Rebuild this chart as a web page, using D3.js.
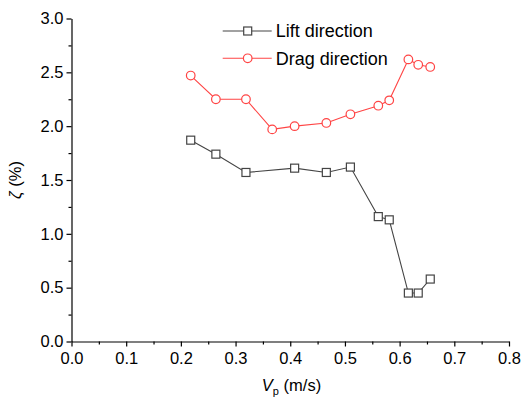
<!DOCTYPE html>
<html>
<head>
<meta charset="utf-8">
<script src="https://cdn.jsdelivr.net/npm/d3@7"></script>
<style>
  body { margin: 0; background: #fff; }
  text { font-family: Arial, "Liberation Sans", sans-serif; fill: #000; }
</style>
</head>
<body>
<div id="chart"></div>
<script>
// data
const liftVp = [0.218, 0.264, 0.319, 0.408, 0.466, 0.510, 0.561, 0.581, 0.616, 0.634, 0.656];
const liftZeta = [1.87, 1.74, 1.57, 1.61, 1.57, 1.62, 1.16, 1.13, 0.45, 0.45, 0.58];
const dragVp = [0.218, 0.264, 0.319, 0.367, 0.408, 0.466, 0.510, 0.561, 0.581, 0.616, 0.634, 0.656];
const dragZeta = [2.47, 2.25, 2.25, 1.97, 2.00, 2.03, 2.11, 2.19, 2.24, 2.62, 2.57, 2.55];
const xTicks = [0, 0.1, 0.2, 0.3, 0.4, 0.5, 0.6, 0.7, 0.8];
const yTicks = [0, 0.5, 1.0, 1.5, 2.0, 2.5, 3.0];

const W = 524, H = 399;
const margin = { top: 18.5, right: 15, bottom: 57.5, left: 71.5 };
const width = W - margin.left - margin.right,
  height = H - margin.top - margin.bottom;
const liftColor = "#444444", dragColor = "#ff4444";

const svg = d3.select("#chart").append("svg")
  .attr("width", W).attr("height", H)
  .append("g")
  .attr("transform", "translate(" + margin.left + "," + margin.top + ")");

const x = d3.scaleLinear().domain([0, 0.8]).range([0, 437.5]);
const y = d3.scaleLinear().domain([0, 3]).range([height, 0]);

// minor ticks
svg.append("g")
  .attr("transform", "translate(0," + height + ")")
  .call(d3.axisBottom(x).tickValues(d3.range(0.05, 0.8, 0.1)).tickSize(3).tickFormat(""))
  .call(g => g.select(".domain").remove());
svg.append("g")
  .call(d3.axisLeft(y).tickValues(d3.range(0.25, 3, 0.5)).tickSize(3).tickFormat(""))
  .call(g => g.select(".domain").remove());

// X axis
const xAxis = svg.append("g")
  .attr("transform", "translate(0," + height + ")")
  .call(d3.axisBottom(x).tickValues(xTicks).tickSize(5).tickSizeOuter(0).tickPadding(6).tickFormat(d3.format(".1f")));
xAxis.selectAll("text").style("font-size", "16.5px");

// Y axis
const yAxis = svg.append("g")
  .call(d3.axisLeft(y).tickValues(yTicks).tickSize(5).tickSizeOuter(0).tickPadding(3).tickFormat(d3.format(".1f")));
yAxis.selectAll("text").style("font-size", "16.5px");

svg.selectAll(".domain, .tick line").attr("stroke", "#000").attr("stroke-width", 1.2);

// axis titles
const xt = svg.append("text")
  .attr("x", 220).attr("y", height + 49)
  .attr("text-anchor", "middle")
  .style("font-size", "16.5px");
xt.append("tspan").style("font-style", "italic").text("V");
xt.append("tspan").attr("dy", 4).style("font-size", "11px").text("p");
xt.append("tspan").attr("dy", -4).text(" (m/s)");

svg.append("text")
  .attr("transform", "translate(-51," + (height / 2) + ") rotate(-90)")
  .attr("text-anchor", "middle")
  .style("font-size", "16.5px")
  .html('<tspan font-style="italic">ζ</tspan> (%)');

// series
const series = [
  { name: "Lift direction", xs: liftVp, ys: liftZeta, color: liftColor, shape: "square" },
  { name: "Drag direction", xs: dragVp, ys: dragZeta, color: dragColor, shape: "circle" }
];

const line = d3.line().x(d => x(d[0])).y(d => y(d[1]));

function marker(g, shape, color) {
  if (shape === "square") {
    g.append("rect").attr("x", -4).attr("y", -4).attr("width", 8).attr("height", 8)
      .attr("fill", "#fff").attr("stroke", color).attr("stroke-width", 1.2);
  } else {
    g.append("circle").attr("r", 4.3)
      .attr("fill", "#fff").attr("stroke", color).attr("stroke-width", 1.2);
  }
}

series.forEach(s => {
  const pts = s.xs.map((v, i) => [v, s.ys[i]]);
  svg.append("path").datum(pts)
    .attr("fill", "none").attr("stroke", s.color).attr("stroke-width", 1.1)
    .attr("d", line);
  svg.append("g").selectAll("g").data(pts).enter().append("g")
    .attr("transform", d => "translate(" + x(d[0]) + "," + y(d[1]) + ")")
    .each(function () { marker(d3.select(this), s.shape, s.color); });
});

// legend
const legend = svg.append("g").attr("transform", "translate(" + (222.7 - margin.left) + "," + (31 - margin.top) + ")");
series.forEach((s, i) => {
  const row = legend.append("g").attr("transform", "translate(0," + (i * 27.3) + ")");
  row.append("line").attr("x1", 0).attr("x2", 49).attr("y1", 0).attr("y2", 0)
    .attr("stroke", s.color).attr("stroke-width", 1.1);
  const m = row.append("g").attr("transform", "translate(25,0)");
  marker(m, s.shape, s.color);
  row.append("text").attr("x", 53).attr("y", 0).attr("dy", "0.35em")
    .style("font-size", "18px").text(s.name);
});
</script>
</body>
</html>
